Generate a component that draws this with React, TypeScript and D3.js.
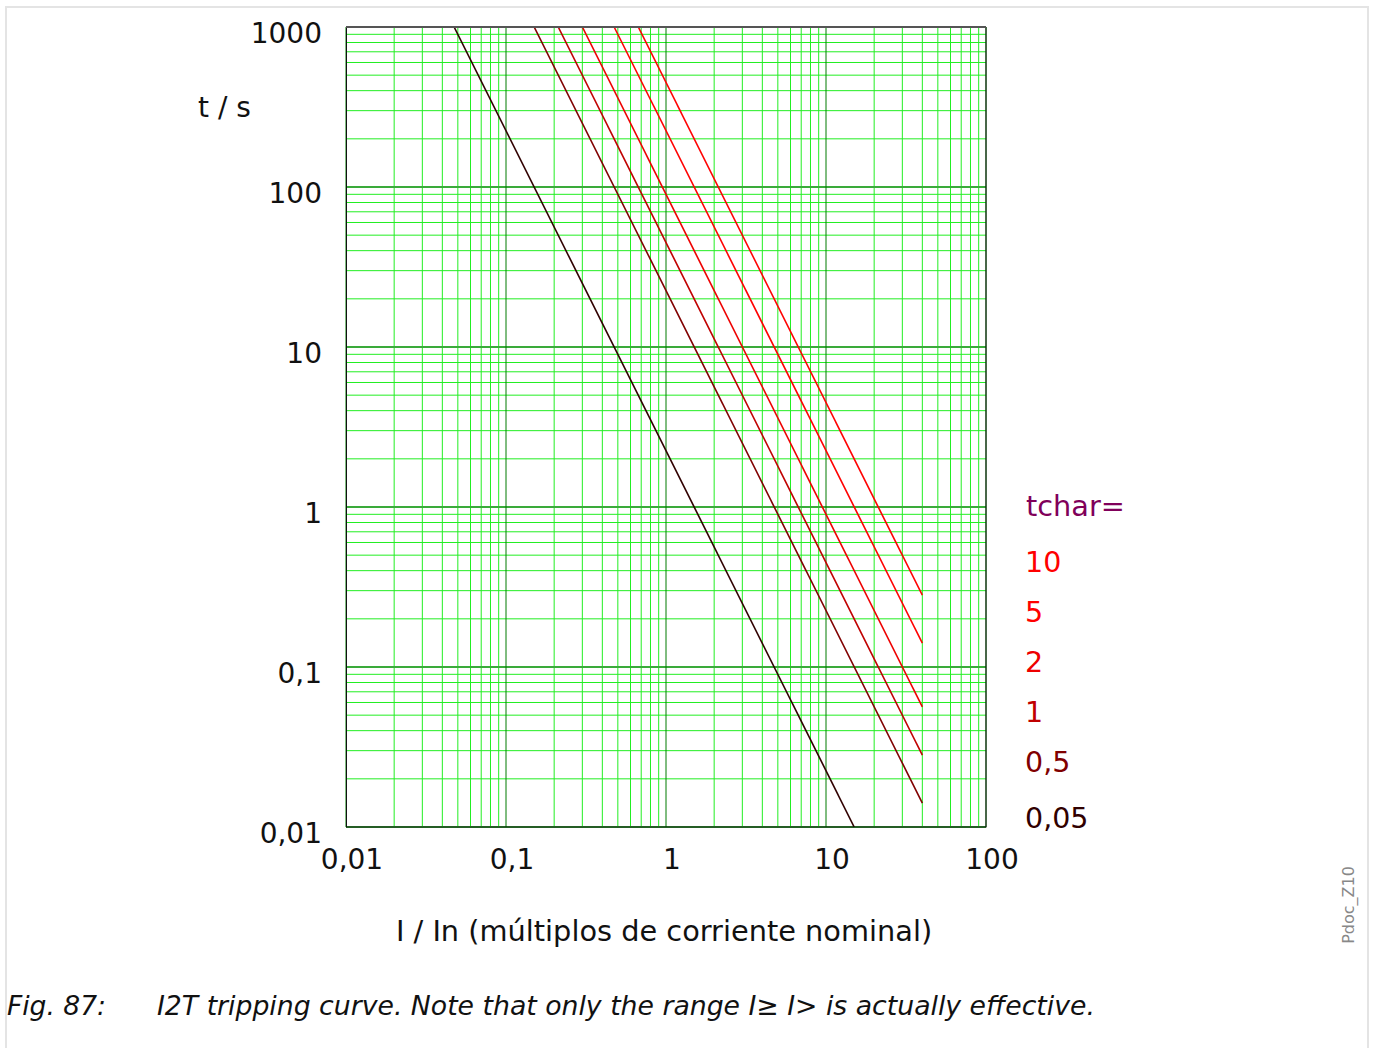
import React from "react";
import * as d3 from "d3";

const xTickValues = [0.01, 0.1, 1, 10, 100];
const xTickLabels = ["0,01", "0,1", "1", "10", "100"];
const yTickValues = [1000, 100, 10, 1, 0.1, 0.01];
const yTickLabels = ["1000", "100", "10", "1", "0,1", "0,01"];

const tcharLabels = ["10", "5", "2", "1", "0,5", "0,05"];
const curveColors = ["#ff0000", "#ff0000", "#ee0000", "#c00000", "#800000", "#300000"];
const labelColors = ["#ff0000", "#ff0000", "#ee0000", "#c00000", "#800000", "#300000"];
// curve start (t = 1000) and end points
const curveStartI = [0.671, 0.474, 0.3, 0.212, 0.15, 0.0474];
const curveStartT = [1000, 1000, 1000, 1000, 1000, 1000];
const curveEndI = [40, 40, 40, 40, 40, 15];
const curveEndT = [0.281, 0.141, 0.0563, 0.0281, 0.0141, 0.01];
const legendBaselines = [572, 622, 672, 722, 772, 828];

const FONT = "'DejaVu Sans', Verdana, sans-serif";

export default function App() {
  const x = d3.scaleLog().domain([0.01, 100]).range([346, 986]);
  const y = d3.scaleLog().domain([0.01, 1000]).range([827, 27]);

  const minorX: number[] = [];
  for (let e = -2; e < 2; e++) for (let m = 2; m <= 9; m++) minorX.push(m * Math.pow(10, e));
  const minorY: number[] = [];
  for (let e = -2; e < 3; e++) for (let m = 2; m <= 9; m++) minorY.push(m * Math.pow(10, e));

  const line = d3
    .line<[number, number]>()
    .x((d) => x(d[0]))
    .y((d) => y(d[1]));

  return (
    <svg
      width={1374}
      height={1048}
      style={{ position: "absolute", left: 0, top: 0, background: "#fff" }}
      fontFamily={FONT}
    >
      {/* frame */}
      <line x1={6} y1={7} x2={1369} y2={7} stroke="#e4e4e4" strokeWidth={2} />
      <line x1={6} y1={6} x2={6} y2={1048} stroke="#e4e4e4" strokeWidth={2} />
      <line x1={1368} y1={6} x2={1368} y2={1048} stroke="#e4e4e4" strokeWidth={2} />

      {/* minor grid */}
      {minorX.map((v, i) => (
        <line key={"mx" + i} x1={x(v)} x2={x(v)} y1={27} y2={827} stroke="#22ee22" strokeWidth={1} />
      ))}
      {minorY.map((v, i) => (
        <line key={"my" + i} x1={346} x2={986} y1={y(v)} y2={y(v)} stroke="#22ee22" strokeWidth={1} />
      ))}
      {/* major grid */}
      {yTickValues.map((v, i) => (
        <line key={"My" + i} x1={346} x2={986} y1={y(v)} y2={y(v)} stroke="#3aaa3a" strokeWidth={2} />
      ))}
      {xTickValues.map((v, i) => (
        <line key={"Mx" + i} x1={x(v)} x2={x(v)} y1={27} y2={827} stroke="#007a00" strokeWidth={1} />
      ))}

      {/* curves */}
      <defs>
        <clipPath id="plotclip">
          <rect x={346} y={27} width={640} height={800} />
        </clipPath>
      </defs>
      <g clipPath="url(#plotclip)">
        {tcharLabels.map((_, i) => (
          <path
            key={"c" + i}
            d={line([
              [curveStartI[i], curveStartT[i]],
              [curveEndI[i], curveEndT[i]],
            ]) || ""}
            fill="none"
            stroke={curveColors[i]}
            strokeWidth={1.6}
          />
        ))}
      </g>

      {/* plot border */}
      <rect x={346.5} y={27.5} width={639.5} height={799.5} fill="none" stroke="#111" strokeWidth={1} />
      <line x1={346} x2={986} y1={27} y2={27} stroke="#555" strokeWidth={2} />

      {/* y tick labels */}
      {yTickValues.map((v, i) => (
        <text key={"yt" + i} x={322} y={y(v) + 16} textAnchor="end" fontSize={28} fill="#111">
          {yTickLabels[i]}
        </text>
      ))}
      {/* x tick labels */}
      {xTickValues.map((v, i) => (
        <text key={"xt" + i} x={x(v) + 6} y={869} textAnchor="middle" fontSize={28} fill="#111">
          {xTickLabels[i]}
        </text>
      ))}

      <text x={198} y={117} fontSize={28} fill="#111">
        t / s
      </text>
      <text x={664} y={941} textAnchor="middle" fontSize={28.8} fill="#111">
        I / In (múltiplos de corriente nominal)
      </text>

      {/* legend */}
      <text x={1026} y={516} fontSize={28.8} fill="#80005a">
        tchar=
      </text>
      {tcharLabels.map((l, i) => (
        <text key={"lg" + i} x={1025} y={legendBaselines[i]} fontSize={28.5} fill={labelColors[i]}>
          {l}
        </text>
      ))}

      {/* side id */}
      <text
        transform="translate(1354,905) rotate(-90)"
        textAnchor="middle"
        fontSize={16}
        fill="#888"
      >
        Pdoc_Z10
      </text>

      {/* caption */}
      <text x={7} y={1015} fontSize={26.5} fontStyle="italic" fill="#111">
        Fig. 87:
      </text>
      <text x={157} y={1015} fontSize={26.7} fontStyle="italic" fill="#111">
        I2T tripping curve. Note that only the range I≥ I&gt; is actually effective.
      </text>
    </svg>
  );
}
